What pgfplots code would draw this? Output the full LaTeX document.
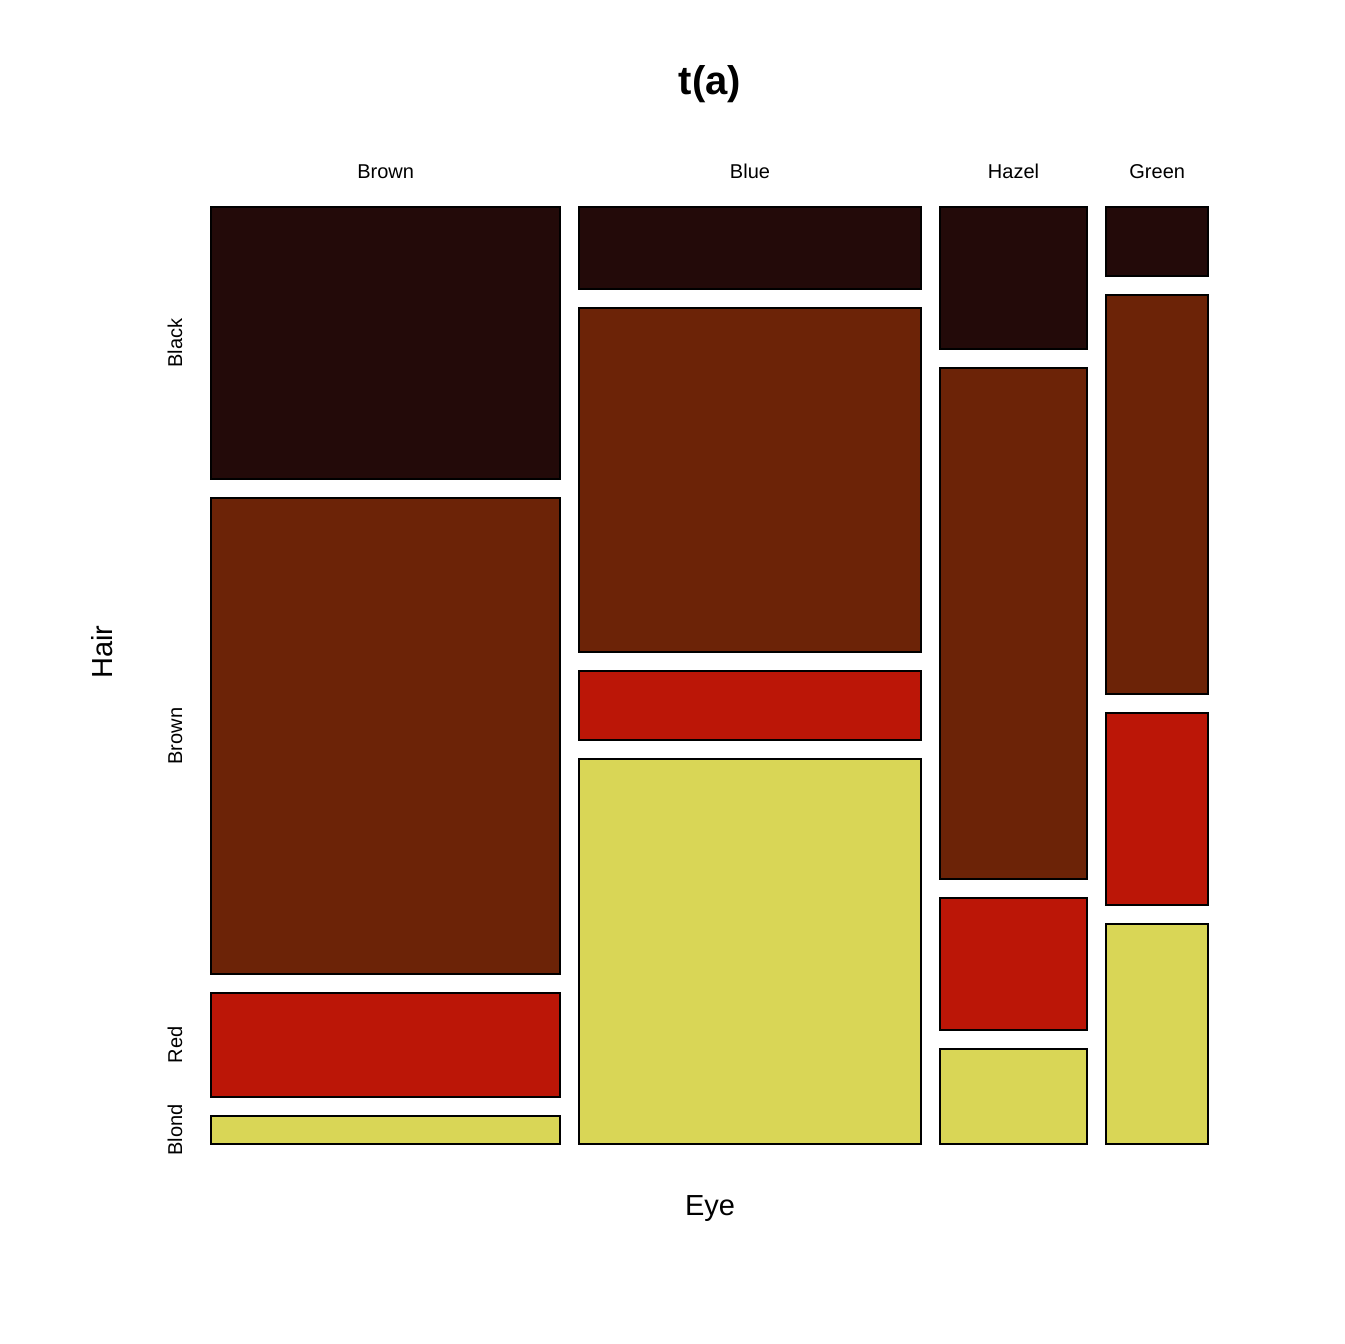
\documentclass[border=0pt]{standalone}
\usepackage{pgfplots}
\pgfplotsset{compat=1.18}
\usepackage{fontspec}
\setmainfont{Liberation Sans}
\definecolor{cBlack}{RGB}{35,10,9}
\definecolor{cBrown}{RGB}{108,35,7}
\definecolor{cRed}{RGB}{187,22,7}
\definecolor{cBlond}{RGB}{217,214,86}
\newcommand{\tile}[5]{\addplot[fill=#5, draw=black, line width=2pt, line join=miter] coordinates {(#1,#3) (#2,#3) (#2,#4) (#1,#4)} --cycle;}
\begin{document}
\begin{tikzpicture}
\begin{axis}[
  scale only axis, width=1344pt, height=1344pt,
  xmin=0, xmax=1344, ymin=0, ymax=1344, y dir=reverse,
  hide axis, clip=false]
\path (axis cs:0,0) rectangle (axis cs:1344,1344);
% Eye = Brown (220)
\tile{211}{560.3}{207}{479}{cBlack}
\tile{211}{560.3}{498}{974}{cBrown}
\tile{211}{560.3}{993}{1097}{cRed}
\tile{211}{560.3}{1116}{1144}{cBlond}
% Eye = Blue (215)
\tile{579.3}{920.7}{207}{288.9}{cBlack}
\tile{579.3}{920.7}{307.9}{651.7}{cBrown}
\tile{579.3}{920.7}{670.7}{740.3}{cRed}
\tile{579.3}{920.7}{759.3}{1144}{cBlond}
% Eye = Hazel (93)
\tile{939.7}{1087.4}{207}{348.9}{cBlack}
\tile{939.7}{1087.4}{367.9}{878.9}{cBrown}
\tile{939.7}{1087.4}{897.9}{1030.4}{cRed}
\tile{939.7}{1087.4}{1049.4}{1144}{cBlond}
% Eye = Green (64)
\tile{1106.4}{1208}{207}{275.8}{cBlack}
\tile{1106.4}{1208}{294.8}{693.5}{cBrown}
\tile{1106.4}{1208}{712.5}{905}{cRed}
\tile{1106.4}{1208}{924}{1144}{cBlond}
% texts
\node[anchor=base, font=\fontsize{40}{48}\selectfont\bfseries] at (axis cs:710,94) {t(a)};
\node[anchor=base, font=\fontsize{29}{35}\selectfont] at (axis cs:710,1215) {Eye};
\node[anchor=base, rotate=90, font=\fontsize{29}{35}\selectfont] at (axis cs:112,652) {Hair};
\node[anchor=base, font=\fontsize{20}{24}\selectfont] at (axis cs:385.6,178) {Brown};
\node[anchor=base, font=\fontsize{20}{24}\selectfont] at (axis cs:750,178) {Blue};
\node[anchor=base, font=\fontsize{20}{24}\selectfont] at (axis cs:1013.5,178) {Hazel};
\node[anchor=base, font=\fontsize{20}{24}\selectfont] at (axis cs:1157.2,178) {Green};
\node[anchor=base, rotate=90, font=\fontsize{20}{24}\selectfont] at (axis cs:182,343) {Black};
\node[anchor=base, rotate=90, font=\fontsize{20}{24}\selectfont] at (axis cs:182,736) {Brown};
\node[anchor=base, rotate=90, font=\fontsize{20}{24}\selectfont] at (axis cs:182,1045) {Red};
\node[anchor=base, rotate=90, font=\fontsize{20}{24}\selectfont] at (axis cs:182,1130) {Blond};
\end{axis}
\end{tikzpicture}
\end{document}
